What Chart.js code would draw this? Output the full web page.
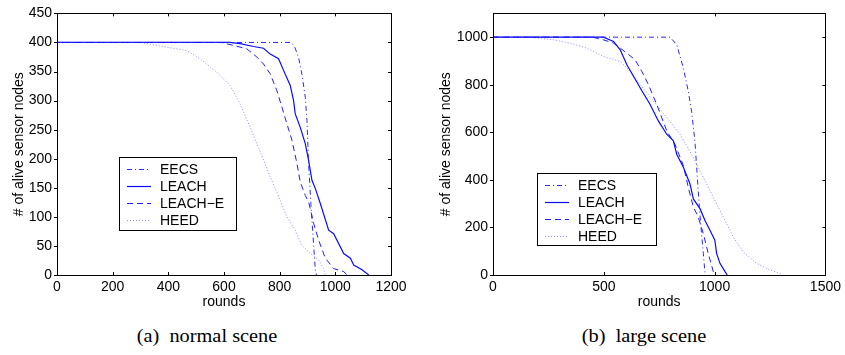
<!DOCTYPE html>
<html>
<head>
<meta charset="utf-8">
<script src="https://cdn.jsdelivr.net/npm/chart.js@4.4.1/dist/chart.umd.min.js"></script>
<style>
body { margin:0; background:#fff; width:845px; height:355px; position:relative; overflow:hidden; }
canvas { position:absolute; top:0; }
.cap { position:absolute; top:325px; width:300px; text-align:center; font-family:"Liberation Serif", "Times New Roman", serif; font-size:18px; line-height:22px; color:#000; white-space:pre; transform:scaleX(1.13); }
</style>
</head>
<body>
<canvas id="normal" width="420" height="315" style="left:0"></canvas>
<canvas id="large" width="425" height="315" style="left:420px"></canvas>
<div class="cap" style="left:57px">(a)  normal scene</div>
<div class="cap" style="left:494px">(b)  large scene</div>
<script>
var seriesNames = ["EECS", "LEACH", "LEACH\u2212E", "HEED"];

// (a) normal scene
var normalEecsRounds = [0, 838, 852, 868, 880, 892, 898, 904, 912, 920, 928, 932];
var normalEecsAlive = [400, 400, 395, 374, 345, 306, 266, 192, 123, 66, 9, 0];
var normalLeachRounds = [0, 620, 658, 706, 742, 766, 796, 814, 838, 850, 856, 874, 892, 904, 916, 928, 946, 976, 994, 1030, 1054, 1066, 1096, 1120];
var normalLeachAlive = [400, 400, 398, 393, 390, 380, 372, 352, 326, 300, 277, 254, 226, 197, 163, 149, 123, 77, 71, 37, 29, 17, 9, 0];
var normalLeachERounds = [0, 590, 634, 682, 718, 742, 766, 790, 808, 826, 844, 862, 874, 892, 904, 922, 940, 964, 994, 1030, 1042];
var normalLeachEAlive = [400, 400, 395, 389, 375, 363, 346, 317, 289, 260, 232, 192, 160, 137, 126, 89, 60, 29, 11, 6, 0];
var normalHeedRounds = [0, 300, 322, 394, 466, 514, 574, 622, 658, 694, 730, 766, 802, 826, 856, 880, 910, 940, 958, 964];
var normalHeedAlive = [400, 400, 398, 392, 386, 372, 349, 326, 294, 254, 212, 169, 129, 100, 77, 51, 37, 26, 11, 0];

// (b) large scene
var largeEecsRounds = [0, 799, 829, 859, 881, 896, 911, 919, 931, 941, 949, 956, 958];
var largeEecsAlive = [1000, 1000, 968, 870, 773, 689, 564, 453, 286, 174, 91, 14, 0];
var largeLeachRounds = [0, 498, 544, 574, 604, 634, 671, 709, 746, 784, 814, 829, 859, 889, 904, 934, 956, 979, 1001, 1009, 1024, 1047, 1057];
var largeLeachAlive = [1000, 1000, 982, 947, 884, 836, 776, 717, 648, 592, 564, 508, 453, 383, 320, 279, 230, 188, 146, 91, 49, 14, 0];
var largeLeachERounds = [0, 450, 498, 544, 604, 641, 671, 701, 739, 784, 821, 859, 881, 904, 926, 949, 971, 986, 994, 1001];
var largeLeachEAlive = [1000, 1000, 989, 975, 933, 905, 857, 801, 717, 606, 550, 460, 369, 286, 244, 174, 91, 42, 14, 0];
var largeHeedRounds = [0, 168, 273, 348, 423, 498, 574, 619, 664, 724, 784, 844, 904, 949, 994, 1039, 1084, 1129, 1189, 1249, 1302, 1305];
var largeHeedAlive = [1000, 1000, 989, 975, 954, 919, 898, 857, 801, 731, 662, 592, 494, 411, 327, 244, 160, 97, 49, 21, 4, 0];

var styles = [
	{ color: 'rgb(40,40,255)', dash: [5, 3, 1, 3], width: 1 },
	{ color: 'rgb(10,10,255)', dash: [], width: 1.2 },
	{ color: 'rgb(30,30,255)', dash: [6, 4], width: 1 },
	{ color: 'rgba(90,90,255,0.7)', dash: [1, 2], width: 1 }
];

Chart.defaults.font.family = '"Liberation Sans", Arial, Helvetica, sans-serif';
Chart.defaults.font.size = 14;
Chart.defaults.color = '#000';

function pts(r, v) {
	return r.map(function (x, i) { return { x: x, y: v[i] }; });
}

// box + little tick marks like matlab, and legend in the plot
var frame = {
	id: 'frame',
	afterDraw: function (chart) {
		var ctx = chart.ctx, a = chart.chartArea;
		var xs = chart.scales.x, ys = chart.scales.y;
		ctx.save();
		ctx.strokeStyle = '#000';
		ctx.lineWidth = 1;
		ctx.setLineDash([]);
		ctx.strokeRect(Math.round(a.left) + 0.5, Math.round(a.top) + 0.5, Math.round(a.right - a.left), Math.round(a.bottom - a.top));
		ctx.beginPath();
		ys.ticks.forEach(function (t) {
			var y = Math.round(ys.getPixelForValue(t.value)) + 0.5;
			ctx.moveTo(a.left - 3, y); ctx.lineTo(a.left, y);
			ctx.moveTo(a.right - 3, y); ctx.lineTo(a.right, y);
		});
		xs.ticks.forEach(function (t) {
			var x = Math.round(xs.getPixelForValue(t.value)) + 0.5;
			ctx.moveTo(x, a.bottom); ctx.lineTo(x, a.bottom - 3);
			ctx.moveTo(x, a.top); ctx.lineTo(x, a.top + 3);
		});
		ctx.stroke();

		var lb = chart.options.plugins.frame.box;
		ctx.fillStyle = '#fff';
		ctx.fillRect(lb.x, lb.y, lb.w, lb.h);
		ctx.strokeStyle = '#000';
		ctx.strokeRect(lb.x + 0.5, lb.y + 0.5, lb.w, lb.h);
		ctx.font = '14px "Liberation Sans", Arial, sans-serif';
		ctx.textBaseline = 'middle';
		ctx.textAlign = 'left';
		seriesNames.forEach(function (name, i) {
			var y = lb.y + 12 + i * 17;
			ctx.strokeStyle = styles[i].color;
			ctx.lineWidth = styles[i].width;
			ctx.setLineDash(styles[i].dash);
			ctx.beginPath();
			ctx.moveTo(lb.x + 8, y + 0.5);
			ctx.lineTo(lb.x + 32, y + 0.5);
			ctx.stroke();
			ctx.fillStyle = '#000';
			ctx.fillText(name, lb.x + 41, y + 1);
		});
		ctx.restore();
	}
};

function plain(v) { return String(v); }

function makeChart(id, rounds, alive, xMax, xStep, yMax, yStep, yWidth, padRight, yTitlePad, box) {
	var datasets = rounds.map(function (r, i) {
		return {
			label: seriesNames[i],
			data: pts(r, alive[i]),
			borderColor: styles[i].color,
			borderDash: styles[i].dash,
			borderWidth: styles[i].width,
			pointRadius: 0,
			tension: 0,
			fill: false
		};
	});
	return new Chart(document.getElementById(id), {
		type: 'line',
		data: { datasets: datasets },
		plugins: [frame],
		options: {
			responsive: false,
			animation: false,
			devicePixelRatio: 1,
			layout: { padding: { top: 13, right: padRight, left: 0, bottom: 0 } },
			plugins: {
				legend: { display: false },
				tooltip: { enabled: false },
				frame: { box: box }
			},
			scales: {
				x: {
					type: 'linear',
					min: 0,
					max: xMax,
					grid: { display: false, drawTicks: false },
					border: { display: false },
					ticks: { stepSize: xStep, padding: 4, maxRotation: 0, includeBounds: false, callback: plain },
					title: { display: true, text: 'rounds', padding: { top: 0, bottom: 4 } },
					afterFit: function (s) { s.height = 40; }
				},
				y: {
					min: 0,
					max: yMax,
					grid: { display: false, drawTicks: false },
					border: { display: false },
					ticks: { stepSize: yStep, padding: 5, includeBounds: false, callback: plain },
					title: { display: true, text: '# of alive sensor nodes', padding: { top: yTitlePad, bottom: 0 } },
					afterFit: function (s) { s.width = yWidth; }
				}
			}
		}
	});
}

makeChart('normal',
	[normalEecsRounds, normalLeachRounds, normalLeachERounds, normalHeedRounds],
	[normalEecsAlive, normalLeachAlive, normalLeachEAlive, normalHeedAlive],
	1200, 200, 450, 50, 57, 29, 11, { x: 119, y: 157, w: 117, h: 73 });

makeChart('large',
	[largeEecsRounds, largeLeachRounds, largeLeachERounds, largeHeedRounds],
	[largeEecsAlive, largeLeachAlive, largeLeachEAlive, largeHeedAlive],
	1500, 500, 1100, 200, 73, 19, 18, { x: 117, y: 173, w: 119, h: 72 });
</script>
</body>
</html>
